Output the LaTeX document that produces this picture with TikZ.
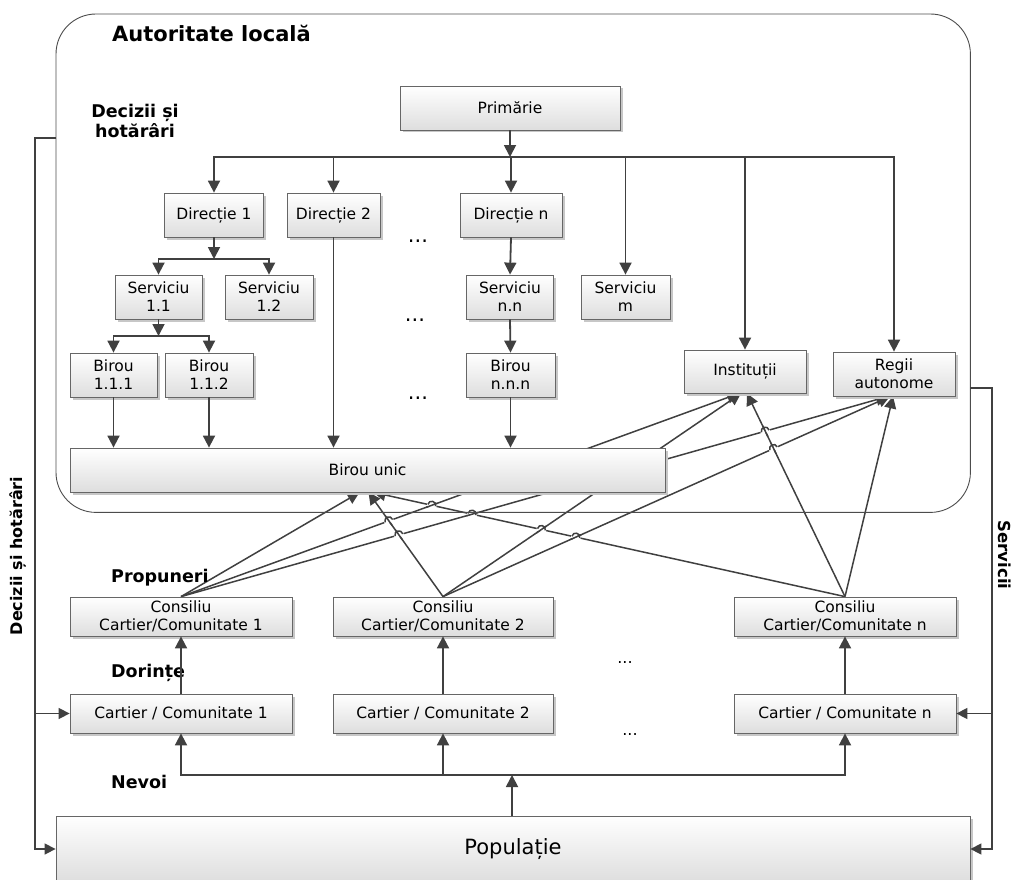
\documentclass[tikz,border=0pt]{standalone}
\usepackage{fontspec}
\setmainfont{DejaVu Sans}
\usetikzlibrary{arrows.meta,shadows,calc,intersections}
\pgfdeclarelayer{background}
\pgfsetlayers{background,main}
\tikzset{
 box/.style={draw=black!60, line width=0.8pt, top color=white, bottom color=black!13,
   drop shadow={shadow xshift=2.5pt, shadow yshift=-2.5pt, fill=black!22, opacity=1},
   inner sep=1pt, align=center, text=black, font=\fontsize{15.5}{18}\selectfont},
 sz/.style 2 args={minimum width=#1pt, minimum height=#2pt},
 outer/.style={draw=black!70, line width=0.9pt, rounded corners=40pt},
 myarrow/.style={-{Triangle[length=12pt,width=12pt]}},
 conn/.style={draw=black!75, line width=1.8pt, myarrow},
 busline/.style={draw=black!75, line width=2.7pt, line cap=rect},
 barline/.style={draw=black!75, line width=1.8pt, line cap=rect},
 plainline/.style={draw=black!75, line width=1.5pt},
 prop/.style={plainline, myarrow},
 side/.style={draw=black!75, line width=1.5pt, -{Triangle[length=11pt,width=11pt]}},
 lbl/.style={font=\bfseries\fontsize{17.5}{20.5}\selectfont, inner sep=0, align=center},
 dotsA/.style={font=\fontsize{21}{24}\selectfont, inner sep=0},
 dotsB/.style={font=\fontsize{16}{19}\selectfont, inner sep=0},
}
% line hop: #1 hopping path, #2 crossed path, #3/#4 left/right ends of hopping line,
% #5/#6 ends of crossed line
\newcommand\hopover[6]{%
 \path[name intersections={of=#1 and #2, by=hp}];
 \coordinate (hpa) at ($(hp)!4pt!(#3)$);
 \coordinate (hpb) at ($(hp)!4pt!(#4)$);
 \draw[white, line width=3.5pt] ($(hp)!4.8pt!(#3)$) -- ($(hp)!4.8pt!(#4)$);
 \draw[plainline] ($(hp)!6pt!(#5)$) -- ($(hp)!6pt!(#6)$);
 \draw[plainline] (hpa) .. controls ($(hpa)!5.3pt!90:(hp)$) and ($(hpb)!5.3pt!-90:(hp)$) .. (hpb);
}
\begin{document}
\begin{tikzpicture}[x=1pt,y=-1pt]
\useasboundingbox (0,0) rectangle (1014,880);

% authority frame (drawn later on background)
\node[minimum width=914pt, minimum height=498pt, anchor=north west, inner sep=0] (auth) at (56,14) {};

% labels
\node[lbl, font=\bfseries\fontsize{21}{25}\selectfont, anchor=base west] (autl) at (112,42) {Autoritate locală};
\node[lbl] (dech) at (135,121) {Decizii și\\hotărâri};
\node[lbl, anchor=base west] (propl) at (111,582) {Propuneri};
\node[lbl, anchor=base west] (dorl) at (111,677) {Dorințe};
\node[lbl, anchor=base west] (nevl) at (111,788) {Nevoi};
\node[lbl, font=\bfseries\fontsize{16}{19}\selectfont, rotate=90] (decv) at (18,556) {Decizii și hotărâri};
\node[lbl, font=\bfseries\fontsize{16.5}{19}\selectfont, rotate=-90] (srvl) at (1005,555) {Servicii};

% boxes
\node[box, sz={220}{44}] (prim) at (510,108) {Primărie};
\node[box, sz={99}{44}] (d1) at (214,215) {Direcție 1};
\node[box, sz={93}{44}] (d2) at (333.5,215) {Direcție 2};
\node[box, sz={102}{44}] (dn) at (511,215) {Direcție n};
\node[box, sz={87}{44}] (s11) at (158.5,297) {Serviciu\\1.1};
\node[box, sz={88}{44}] (s12) at (269,297) {Serviciu\\1.2};
\node[box, sz={87}{44}] (snn) at (510,297) {Serviciu\\n.n};
\node[box, sz={89}{44}] (sm) at (625.5,297) {Serviciu\\m};
\node[box, sz={87}{44}] (b111) at (113.5,375) {Birou\\1.1.1};
\node[box, sz={88}{44}] (b112) at (209,375) {Birou\\1.1.2};
\node[box, sz={89}{44}] (bnnn) at (510.5,375) {Birou\\n.n.n};
\node[box, sz={122}{43}] (inst) at (745,371.5) {Instituții};
\node[box, sz={122}{44}] (regii) at (894,374) {Regii\\autonome};
\node[box, sz={595}{44}] (bu) at (367.5,470) {Birou unic};
\node[box, sz={222}{39}] (c1) at (181,616.5) {Consiliu\\Cartier/Comunitate 1};
\node[box, sz={220}{39}] (c2) at (443,616.5) {Consiliu\\Cartier/Comunitate 2};
\node[box, sz={222}{39}] (cn) at (845,616.5) {Consiliu\\Cartier/Comunitate n};
\node[box, sz={222}{39}] (k1) at (181,713.5) {Cartier / Comunitate 1};
\node[box, sz={220}{39}] (k2) at (443,713.5) {Cartier / Comunitate 2};
\node[box, sz={222}{39}] (kn) at (845,713.5) {Cartier / Comunitate n};
\node[box, sz={914}{66}, font=\fontsize{21}{25}\selectfont] (pop) at (513,849) {Populație};

% dots
\node[dotsA, anchor=base] (dt1) at (418,242) {...};
\node[dotsA, anchor=base] (dt2) at (415,321) {...};
\node[dotsA, anchor=base] (dt3) at (418,399) {...};
\node[dotsB, anchor=base] (dt4) at (625,663) {...};
\node[dotsB, anchor=base] (dt5) at (630,735) {...};

% hierarchy
\coordinate (bus) at (510,157);
\draw[conn] (prim.south) -- (bus);
\draw[busline] (d1.north |- bus) -- (regii.north |- bus);
\foreach \n in {d1,d2,dn,sm,inst,regii}
  \draw[conn] (\n.north |- bus) -- (\n.north);

\coordinate (j1) at (214,259);
\draw[conn] (d1.south) -- (j1);
\draw[barline] (s11.north |- j1) -- (s12.north |- j1);
\draw[conn] (s11.north |- j1) -- (s11.north);
\draw[conn] (s12.north |- j1) -- (s12.north);

\coordinate (j2) at (158.5,336);
\draw[conn] (s11.south) -- (j2);
\draw[barline] (b111.north |- j2) -- (b112.north |- j2);
\draw[conn] (b111.north |- j2) -- (b111.north);
\draw[conn] (b112.north |- j2) -- (b112.north);

\draw[conn] (b111.south) -- (b111.south |- bu.north);
\draw[conn] (b112.south) -- (b112.south |- bu.north);
\draw[conn] (d2.south) -- (d2.south |- bu.north);
\draw[conn] (dn.south) -- (snn.north);
\draw[conn] (snn.south) -- (bnnn.north);
\draw[conn] (bnnn.south) -- (bnnn.south |- bu.north);

% proposals (behind Birou unic)
\coordinate (buA) at ([xshift=-8pt]bu.south);
\coordinate (buB) at ([xshift=1pt]bu.south);
\coordinate (buC) at ([xshift=6pt]bu.south);
\coordinate (inA) at ([xshift=-6pt]inst.south);
\coordinate (inB) at ([xshift=-4pt]inst.south);
\coordinate (inC) at ([xshift=2pt]inst.south);
\coordinate (rgA) at ([xshift=-6pt]regii.south);
\coordinate (rgB) at ([xshift=-4pt]regii.south);
\coordinate (rgC) at ([xshift=-1pt]regii.south);
\begin{pgfonlayer}{background}
\draw[prop, name path=L1] (c1.north) -- (buA);
\draw[prop, name path=L2] (c1.north) -- (inA);
\draw[prop, name path=L3] (c1.north) -- (rgA);
\draw[prop, name path=L4] (c2.north) -- (buB);
\draw[prop, name path=L5] (c2.north) -- (inB);
\draw[prop, name path=L6] (c2.north) -- (rgB);
\draw[prop, name path=L7] (cn.north) -- (buC);
\draw[prop, name path=L8] (cn.north) -- (inC);
\draw[prop, name path=L9] (cn.north) -- (rgC);
\hopover{L2}{L4}{c1.north}{inA}{c2.north}{buB}
\hopover{L3}{L4}{c1.north}{rgA}{c2.north}{buB}
\hopover{L7}{L2}{buC}{cn.north}{c1.north}{inA}
\hopover{L7}{L3}{buC}{cn.north}{c1.north}{rgA}
\hopover{L7}{L5}{buC}{cn.north}{c2.north}{inB}
\hopover{L7}{L6}{buC}{cn.north}{c2.north}{rgB}
\hopover{L3}{L8}{c1.north}{rgA}{cn.north}{inC}
\hopover{L6}{L8}{c2.north}{rgB}{cn.north}{inC}
\draw[outer] (auth.south west) rectangle (auth.north east);
\end{pgfonlayer}

% wishes
\draw[conn] (k1.north) -- (c1.south);
\draw[conn] (k2.north) -- (c2.south);
\draw[conn] (kn.north) -- (cn.south);

% needs
\coordinate (nev) at (512,775);
\draw[conn] (nev |- pop.north) -- (nev);
\draw[barline] (k1.south |- nev) -- (k2.south |- nev);
\draw[busline] (k2.south |- nev) -- (kn.south |- nev);
\draw[conn] (k1.south |- nev) -- (k1.south);
\draw[conn] (k2.south |- nev) -- (k2.south);
\draw[conn] (kn.south |- nev) -- (kn.south);

% decisions (left)
\coordinate (dec) at (35,138);
\draw[side] (auth.west |- dec) -- (dec) -- (dec |- pop.west) -- (pop.west);
\draw[side] (dec |- k1.west) -- (k1.west);

% services (right)
\coordinate (srv) at (992,388);
\draw[side] (auth.east |- srv) -- (srv) -- (srv |- pop.east) -- (pop.east);
\draw[side] (srv |- kn.east) -- (kn.east);
\end{tikzpicture}
\end{document}
